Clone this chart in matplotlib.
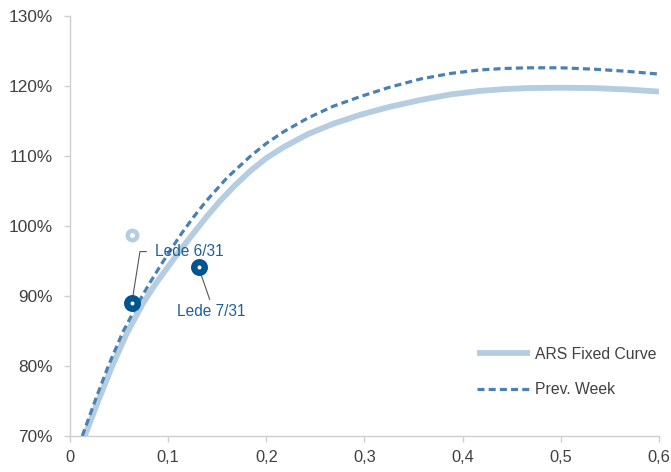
import matplotlib
matplotlib.use("Agg")
import matplotlib.pyplot as plt
from matplotlib.ticker import FuncFormatter

plt.rcParams["font.family"] = ["Liberation Sans", "DejaVu Sans"]

# ARS fixed-rate curve (duration in years, yield in %)
curve_x = [0.015, 0.029, 0.043, 0.058, 0.0745, 0.087, 0.099, 0.112, 0.126,
           0.139, 0.153, 0.168, 0.184, 0.200, 0.218, 0.242, 0.268, 0.296,
           0.325, 0.357, 0.388, 0.418, 0.442, 0.466, 0.500, 0.534, 0.567,
           0.600]
curve_y = [70.0, 75.1, 80.0, 84.7, 89.0, 91.7, 94.0, 96.5, 99.0,
           101.3, 103.6, 105.8, 107.9, 109.7, 111.3, 113.1, 114.6, 115.9,
           117.0, 118.0, 118.8, 119.3, 119.55, 119.7, 119.75, 119.7, 119.5,
           119.2]

# previous week's curve
prev_x = [0.0125, 0.026, 0.039, 0.054, 0.0695, 0.081, 0.092, 0.103, 0.114,
          0.126, 0.139, 0.160, 0.184, 0.200, 0.218, 0.242, 0.268, 0.296,
          0.325, 0.357, 0.388, 0.418, 0.442, 0.466, 0.500, 0.534, 0.567,
          0.600]
prev_y = [70.0, 75.2, 80.0, 84.9, 89.0, 91.8, 94.3, 96.7, 99.0,
          101.3, 103.6, 106.9, 110.0, 111.8, 113.5, 115.4, 117.1, 118.5,
          119.8, 121.0, 121.8, 122.3, 122.5, 122.6, 122.6, 122.4, 122.1,
          121.7]

# individual instruments
lede_names = ["Lede 6/31", "Lede 7/31"]
lede_x = [0.063, 0.131]
lede_y = [89.0, 94.1]
lede_prev_x = [0.063]
lede_prev_y = [98.7]

x_ticks = [0, 0.1, 0.2, 0.3, 0.4, 0.5, 0.6]
y_ticks = [70, 80, 90, 100, 110, 120, 130]

light = "#b5cde1"
dashed = "#4a80b2"
dark = "#00558f"
label_col = "#1f5f99"
grey = "#404040"
spine = "#cfcfcf"

fig = plt.figure(figsize=(6.71, 4.72), dpi=100)
ax = fig.add_axes([0.1043, 0.0763, 0.8778, 0.8898])

ax.plot(curve_x, curve_y, color=light, lw=4.2, solid_capstyle="butt",
        solid_joinstyle="round", label="ARS Fixed Curve", zorder=2)
ax.plot(prev_x, prev_y, color=dashed, lw=2.3, dashes=(2.2, 1.3),
        dash_joinstyle="round", label="Prev. Week", zorder=3)

ax.plot(lede_prev_x, lede_prev_y, "o", ms=6.8, mfc="white", mec=light,
        mew=3.2, zorder=4)
ax.plot(lede_x, lede_y, "o", ms=7.6, mfc="white", mec=dark, mew=4.6,
        zorder=5)

# labels with leader lines
ax.annotate(lede_names[0], xy=(lede_x[0], lede_y[0]), xytext=(16.5, 37),
            textcoords="offset points", ha="left", va="center",
            fontsize=11.2, color=label_col,
            arrowprops=dict(arrowstyle="-", color="#555555", lw=0.8,
                            relpos=(0, 0.5), shrinkA=4, shrinkB=5,
                            connectionstyle="angle,angleA=0,angleB=81,rad=0"))
ax.annotate(lede_names[1], xy=(lede_x[1], lede_y[1]), xytext=(9, -31.5),
            textcoords="offset points", ha="center", va="center",
            fontsize=11.2, color=label_col,
            arrowprops=dict(arrowstyle="-", color="#555555", lw=0.8,
                            relpos=(0.5, 1), shrinkA=1, shrinkB=5))

ax.set_xlim(0, 0.6)
ax.set_ylim(70, 130)
ax.set_xticks(x_ticks)
ax.set_yticks(y_ticks)
ax.xaxis.set_major_formatter(FuncFormatter(
    lambda v, p: "0" if v == 0 else f"{v:.1f}".replace(".", ",")))
ax.yaxis.set_major_formatter(FuncFormatter(lambda v, p: f"{v:.0f}%"))

for s in ["top", "right"]:
    ax.spines[s].set_visible(False)
for s in ["left", "bottom"]:
    ax.spines[s].set_color(spine)
    ax.spines[s].set_linewidth(1.0)

ax.tick_params(axis="y", length=4, width=1.0, color=spine, pad=8.5,
               labelsize=12.4, labelcolor=grey)
ax.tick_params(axis="x", length=4, width=1.0, color=spine, pad=6,
               labelsize=11.8, labelcolor=grey)

leg = ax.legend(loc="upper left", bbox_to_anchor=(0.691, 0.212),
                frameon=False, fontsize=11.3, handlelength=3.4,
                handletextpad=0.3, labelspacing=1.3, borderpad=0,
                borderaxespad=0)
for t in leg.get_texts():
    t.set_color(grey)

fig.savefig("out.png", dpi=100)
